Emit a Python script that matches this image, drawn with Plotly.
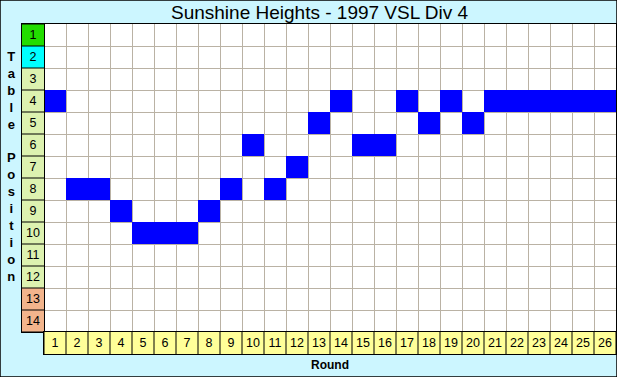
import plotly.graph_objects as go

rounds = list(range(1, 27))
positions = [4, 8, 8, 9, 10, 10, 10, 9, 8, 6, 8, 7, 5, 4, 6, 6, 4, 5, 4, 5, 4, 4, 4, 4, 4, 4]
table_rows = list(range(1, 15))
row_band = [0, 1, 2, 2, 2, 2, 2, 2, 2, 2, 2, 2, 3, 3]  # 0 promotion, 1 playoff, 2 mid, 3 relegation
band_colors = ["#22DD00", "#00FFFF", "#DDF2B0", "#F2B48C"]
title_text = "Sunshine Heights - 1997 VSL Div 4"
x_title = "Round"
y_title = "Table Position"

W, H = 617, 377
BG = "#CCF6FF"
GRID = "#BAB2A4"

def fx(px):
    return px / W

def fy(py):
    return 1 - py / H

fig = go.Figure()

# main grid: blue cells at each round's position
z = [[1 if positions[c - 1] == r else None for c in rounds] for r in table_rows]
fig.add_trace(go.Heatmap(
    x=rounds, y=table_rows, z=z, xaxis="x", yaxis="y",
    colorscale=[[0, "#0000FF"], [1, "#0000FF"]], showscale=False, hoverinfo="skip",
))

# row labels
n = len(band_colors)
cs = []
for i, col in enumerate(band_colors):
    cs.append([i / n, col])
    cs.append([(i + 1) / n, col])
fig.add_trace(go.Heatmap(
    x=[0], y=table_rows, z=[[b] for b in row_band], xaxis="x2", yaxis="y2",
    zmin=-0.5, zmax=n - 0.5, colorscale=cs, showscale=False, hoverinfo="skip",
    text=[[str(r)] for r in table_rows], texttemplate="%{text}",
    textfont=dict(size=12.5, color="black", family="Liberation Sans"),
))

# row label borders
bx, by = [], []
for k in range(len(table_rows) + 1):
    bx += [-0.5, 0.5, None]
    by += [k + 0.5, k + 0.5, None]
fig.add_trace(go.Scatter(x=bx, y=by, mode="lines", line=dict(color="black", width=1),
                         xaxis="x2", yaxis="y2", hoverinfo="skip", showlegend=False))

# column labels
fig.add_trace(go.Heatmap(
    x=rounds, y=[0], z=[[1] * len(rounds)], xaxis="x3", yaxis="y3",
    colorscale=[[0, "#FFFF99"], [1, "#FFFF99"]], showscale=False, hoverinfo="skip",
    text=[[str(c) for c in rounds]], texttemplate="%{text}",
    textfont=dict(size=12.5, color="black", family="Liberation Sans"),
))
cx, cy = [], []
for k in range(len(rounds) + 1):
    cx += [k + 0.5, k + 0.5, None]
    cy += [-0.5, 0.5, None]
fig.add_trace(go.Scatter(x=cx, y=cy, mode="lines", line=dict(color="black", width=1),
                         xaxis="x3", yaxis="y3", hoverinfo="skip", showlegend=False))

ax_common = dict(showticklabels=False, ticks="", zeroline=False, showline=True, mirror=True,
                 linecolor="black", linewidth=1)

fig.update_layout(
    width=W, height=H,
    margin=dict(l=0, r=0, t=0, b=0, pad=0),
    paper_bgcolor=BG, plot_bgcolor="white",
    showlegend=False,
    xaxis=dict(domain=[fx(44), fx(616)], range=[0.5, 26.5], tick0=0.5, dtick=1,
               showgrid=True, gridcolor=GRID, gridwidth=1, **ax_common),
    yaxis=dict(domain=[fy(332), fy(24)], range=[14.5, 0.5], tick0=0.5, dtick=1,
               showgrid=True, gridcolor=GRID, gridwidth=1, **ax_common),
    xaxis2=dict(domain=[fx(22), fx(44)], range=[-0.5, 0.5], showgrid=False, anchor="y2", **ax_common),
    yaxis2=dict(domain=[fy(332), fy(24)], range=[14.5, 0.5], showgrid=False, anchor="x2", **ax_common),
    xaxis3=dict(domain=[fx(44), fx(616)], range=[0.5, 26.5], showgrid=False, anchor="y3", **ax_common),
    yaxis3=dict(domain=[fy(354), fy(332)], range=[-0.5, 0.5], showgrid=False, anchor="x3", **ax_common),
    font=dict(family="Liberation Sans", color="black"),
    annotations=[
        dict(text=title_text, x=fx(320), y=fy(12), xref="paper", yref="paper",
             showarrow=False, font=dict(size=19, family="Liberation Sans"), xanchor="center", yanchor="middle"),
        dict(text="<b>" + x_title + "</b>", x=fx(330), y=fy(365), xref="paper", yref="paper",
             showarrow=False, font=dict(size=12, family="Liberation Sans"), xanchor="center", yanchor="middle"),
        dict(text="<br>".join("<b>" + (ch if ch != " " else "&nbsp;") + "</b>" for ch in y_title),
             x=fx(11), y=fy(166), xref="paper", yref="paper",
             showarrow=False, font=dict(size=13, family="Liberation Sans"), xanchor="center", yanchor="middle"),
    ],
    shapes=[dict(type="rect", xref="paper", yref="paper", x0=0, y0=0, x1=1, y1=1,
                 line=dict(color="black", width=1.5), fillcolor="rgba(0,0,0,0)")],
)

fig.write_html("out.html", config=dict(displayModeBar=False),
               post_script="document.body.style.margin='0';document.body.style.overflow='hidden';")
